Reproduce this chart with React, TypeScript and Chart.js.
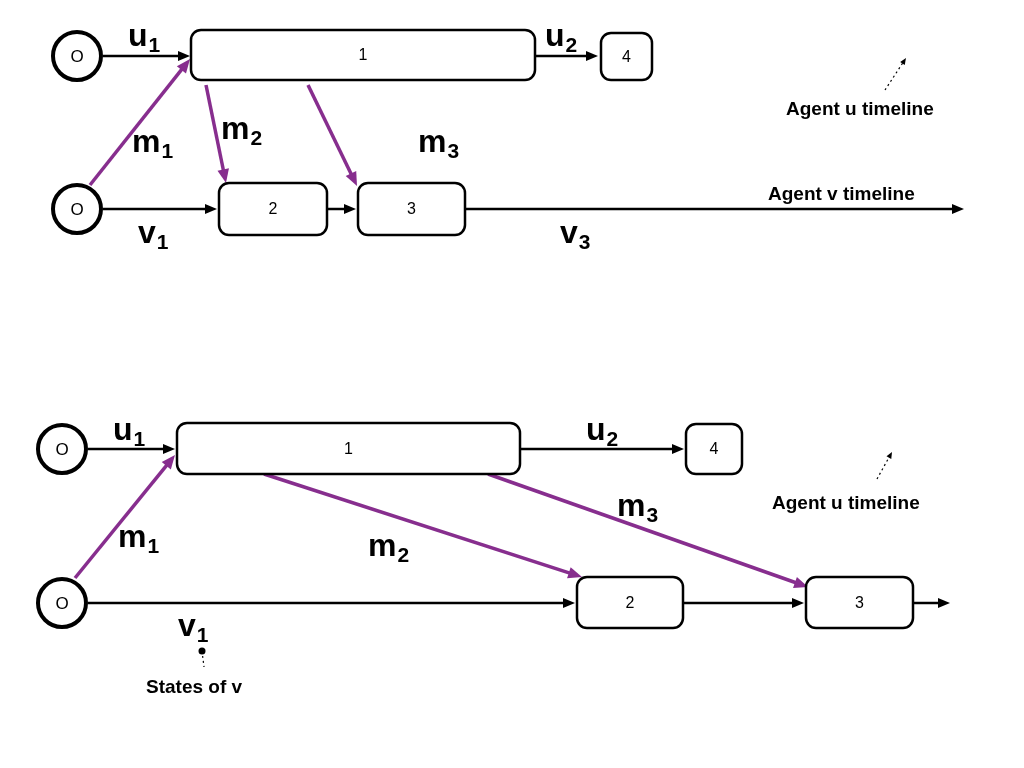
import { useEffect, useRef } from "react";
import { Chart, registerables } from "chart.js";

Chart.register(...registerables);

// circles: [cx, cy]
const circles = [[77, 56], [77, 209], [62, 449], [62, 603]];
// boxes: [x1, y1, x2, y2, label]
const boxes: [number, number, number, number, string][] = [
  [191, 30, 535, 80, "1"], [601, 33, 652, 80, "4"], [219, 183, 327, 235, "2"], [358, 183, 465, 235, "3"],
  [177, 423, 520, 474, "1"], [686, 424, 742, 474, "4"], [577, 577, 683, 628, "2"], [806, 577, 913, 628, "3"],
];
// black arrows: [x1, y1, x2, y2]
const blackArrows = [
  [103, 56, 190, 56], [535, 56, 598, 56], [103, 209, 217, 209], [327, 209, 356, 209], [465, 209, 964, 209],
  [88, 449, 175, 449], [520, 449, 684, 449], [88, 603, 575, 603], [683, 603, 804, 603], [913, 603, 950, 603],
];
const purpleArrows = [
  [90, 185, 190, 59], [206, 85, 226, 183], [308, 85, 357, 186],
  [75, 578, 175, 455], [264, 474, 582, 577], [488, 474, 808, 587],
];
const dottedArrows = [[885, 90, 906, 58], [877, 479, 892, 452]];
// math labels: [x, baseline, main, sub]
const mathLabels: [number, number, string, string][] = [
  [128, 46, "u", "1"], [545, 46, "u", "2"], [132, 152, "m", "1"], [221, 139, "m", "2"], [418, 152, "m", "3"],
  [138, 243, "v", "1"], [560, 243, "v", "3"],
  [113, 440, "u", "1"], [586, 440, "u", "2"], [118, 547, "m", "1"], [368, 556, "m", "2"], [617, 516, "m", "3"],
  [178, 636, "v", "1"],
];
// notes: [x, baseline, text]
const notes: [number, number, string][] = [
  [786, 115, "Agent u timeline"], [768, 200, "Agent v timeline"], [772, 509, "Agent u timeline"], [146, 693, "States of v"],
];

const PURPLE = "#872e8e";

function Diagram(): JSX.Element {
  const ref = useRef<HTMLCanvasElement | null>(null);
  useEffect(() => {
    if (!ref.current) return;
    const drawPlugin = {
      id: "diagram",
      afterDatasetsDraw(chart: Chart) {
        const ctx = chart.ctx;
        const sx = (v: number) => chart.scales.x.getPixelForValue(v);
        const sy = (v: number) => chart.scales.y.getPixelForValue(v);
        const arrow = (a: number[], color: string, w: number, head: number, dash: number[] = []) => {
          const [x1, y1, x2, y2] = [sx(a[0]), sy(a[1]), sx(a[2]), sy(a[3])];
          const ang = Math.atan2(y2 - y1, x2 - x1);
          ctx.save();
          ctx.strokeStyle = color; ctx.fillStyle = color; ctx.lineWidth = w; ctx.setLineDash(dash);
          ctx.beginPath(); ctx.moveTo(x1, y1);
          ctx.lineTo(x2 - Math.cos(ang) * head * 0.8, y2 - Math.sin(ang) * head * 0.8); ctx.stroke();
          ctx.setLineDash([]);
          ctx.beginPath(); ctx.moveTo(x2, y2);
          ctx.lineTo(x2 - head * Math.cos(ang - 0.4), y2 - head * Math.sin(ang - 0.4));
          ctx.lineTo(x2 - head * Math.cos(ang + 0.4), y2 - head * Math.sin(ang + 0.4));
          ctx.closePath(); ctx.fill();
          ctx.restore();
        };
        ctx.save();
        ctx.fillStyle = "#fff"; ctx.fillRect(0, 0, chart.width, chart.height);
        blackArrows.forEach((a) => arrow(a, "#000", 2.5, 13));
        purpleArrows.forEach((a) => arrow(a, PURPLE, 3.5, 15));
        dottedArrows.forEach((a) => arrow(a, "#000", 1.2, 7, [2, 3]));
        ctx.strokeStyle = "#000"; ctx.fillStyle = "#000";
        ctx.textAlign = "center"; ctx.textBaseline = "middle";
        circles.forEach(([cx, cy]) => {
          ctx.lineWidth = 4; ctx.fillStyle = "#fff";
          ctx.beginPath(); ctx.arc(sx(cx), sy(cy), 24, 0, Math.PI * 2); ctx.fill(); ctx.stroke();
          ctx.fillStyle = "#000"; ctx.font = "17px 'Liberation Sans'";
          ctx.fillText("O", sx(cx), sy(cy) + 1);
        });
        boxes.forEach(([x1, y1, x2, y2, t]) => {
          ctx.lineWidth = 2.5; ctx.fillStyle = "#fff";
          ctx.beginPath(); ctx.roundRect(sx(x1), sy(y1), sx(x2) - sx(x1), sy(y2) - sy(y1), 10);
          ctx.fill(); ctx.stroke();
          ctx.fillStyle = "#000"; ctx.font = "16px 'Liberation Sans'";
          ctx.fillText(t, (sx(x1) + sx(x2)) / 2, (sy(y1) + sy(y2)) / 2 + 1);
        });
        ctx.textAlign = "left"; ctx.textBaseline = "alphabetic";
        mathLabels.forEach(([x, y, m, s]) => {
          ctx.font = "bold 32px 'Liberation Sans'";
          ctx.fillText(m, sx(x), sy(y));
          const w = ctx.measureText(m).width;
          ctx.font = "bold 21px 'Liberation Sans'";
          ctx.fillText(s, sx(x) + w + 1, sy(y) + 6);
        });
        ctx.font = "bold 19px 'Liberation Sans'";
        notes.forEach(([x, y, t]) => ctx.fillText(t, sx(x), sy(y)));
        // states-of-v marker
        ctx.beginPath(); ctx.arc(sx(202), sy(651), 3.5, 0, Math.PI * 2); ctx.fill();
        ctx.setLineDash([2, 3]); ctx.lineWidth = 1.2;
        ctx.beginPath(); ctx.moveTo(sx(202), sy(651)); ctx.lineTo(sx(204), sy(667)); ctx.stroke();
        ctx.restore();
      },
    };
    const chart = new Chart(ref.current, {
      type: "scatter",
      data: { datasets: [{ data: boxes.map((b) => ({ x: (b[0] + b[2]) / 2, y: (b[1] + b[3]) / 2 })), pointRadius: 0 }] },
      options: {
        animation: false,
        responsive: false,
        layout: { padding: 0 },
        plugins: { legend: { display: false }, tooltip: { enabled: false } },
        scales: {
          x: { type: "linear", min: 0, max: 1024, display: false },
          y: { type: "linear", min: 0, max: 768, reverse: true, display: false },
        },
      },
      plugins: [drawPlugin],
    });
    return () => chart.destroy();
  }, []);
  return (
    <div style={{ position: "absolute", left: 0, top: 0, width: 1024, height: 768, background: "#fff" }}>
      <canvas ref={ref} width={1024} height={768} />
    </div>
  );
}

export default function App(): JSX.Element {
  return <Diagram />;
}
